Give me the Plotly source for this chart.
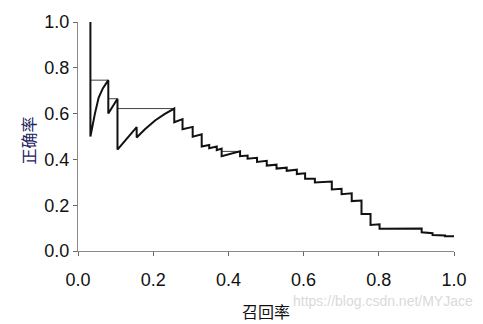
import plotly.graph_objects as go

# Sawtooth precision-recall curve
recall = [0.033, 0.033, 0.045, 0.055, 0.066, 0.0806, 0.0806, 0.105, 0.105, 0.156,
          0.156, 0.178, 0.205, 0.23, 0.256, 0.256, 0.278, 0.278, 0.305, 0.305, 0.329, 0.329,
          0.349, 0.349, 0.369, 0.369, 0.382, 0.382, 0.431, 0.431, 0.451, 0.451,
          0.476, 0.476, 0.502, 0.502, 0.528, 0.528, 0.555, 0.555, 0.582, 0.582,
          0.604, 0.604, 0.630, 0.630, 0.675, 0.675, 0.701, 0.701, 0.728, 0.728,
          0.754, 0.754, 0.778, 0.778, 0.802, 0.802, 0.914, 0.914, 0.943, 0.943,
          0.976, 0.976, 1.0]
precision = [1.0, 0.5, 0.6, 0.67, 0.71, 0.746, 0.6, 0.665, 0.443, 0.541,
             0.496, 0.532, 0.57, 0.598, 0.622, 0.562, 0.576, 0.532, 0.542, 0.499, 0.51, 0.456,
             0.463, 0.449, 0.456, 0.44, 0.447, 0.414, 0.435, 0.414, 0.417, 0.403,
             0.407, 0.389, 0.394, 0.373, 0.377, 0.36, 0.364, 0.35, 0.355, 0.336,
             0.339, 0.316, 0.316, 0.299, 0.303, 0.269, 0.272, 0.248, 0.252, 0.218,
             0.22, 0.162, 0.162, 0.114, 0.117, 0.097, 0.098, 0.082, 0.078, 0.07,
             0.068, 0.064, 0.064]

# Interpolated precision segments (thin horizontal lines)
interp_recall = [0.033, 0.0806, None, 0.0806, 0.105, None, 0.105, 0.256, None, 0.382, 0.431]
interp_precision = [0.746, 0.746, None, 0.665, 0.665, None, 0.622, 0.622, None, 0.435, 0.435]

tick_vals = [0.0, 0.2, 0.4, 0.6, 0.8, 1.0]
tick_text = ["0.0", "0.2", "0.4", "0.6", "0.8", "1.0"]

def axis_style(standoff):
    return dict(
        range=[0, 1], tickvals=tick_vals, ticktext=tick_text,
        showgrid=False, zeroline=False, showline=True, linecolor="#8a8a8a", linewidth=1,
        ticks="outside", ticklen=4, tickcolor="#666666", tickwidth=1,
        ticklabelstandoff=standoff,
        tickfont=dict(family="Liberation Sans, Arial, sans-serif", size=18, color="#111111"),
    )

fig = go.Figure()
fig.add_trace(go.Scatter(x=interp_recall, y=interp_precision, mode="lines",
                         line=dict(color="#444444", width=1), hoverinfo="skip",
                         connectgaps=False))
fig.add_trace(go.Scatter(x=recall, y=precision, mode="lines",
                         line=dict(color="#111111", width=2)))

fig.update_layout(
    width=483, height=324,
    margin=dict(l=78, r=29, t=15, b=73),
    paper_bgcolor="white", plot_bgcolor="white",
    showlegend=False,
    xaxis=axis_style(8),
    yaxis=axis_style(0),
    annotations=[
        dict(text="召回率", xref="paper", yref="paper", x=(266 - 78) / 376, y=-(313 - 251) / 236,
             showarrow=False, xanchor="center", yanchor="middle",
             font=dict(family="Noto Sans CJK SC", size=16, color="#111111")),
        dict(text="正确率", xref="paper", yref="paper", x=-(78 - 28) / 376, y=(251 - 137) / 236,
             showarrow=False, xanchor="center", yanchor="middle", textangle=-90,
             font=dict(family="Noto Sans CJK SC", size=16, color="#1c2260")),
        dict(text="https://blog.csdn.net/MYJace", xref="paper", yref="paper",
             x=(475 - 78) / 376, y=-(303 - 251) / 236, showarrow=False,
             xanchor="right", yanchor="middle",
             font=dict(family="Liberation Sans, Arial, sans-serif", size=14, color="#dadada")),
    ],
)
fig.write_html("out.html")
